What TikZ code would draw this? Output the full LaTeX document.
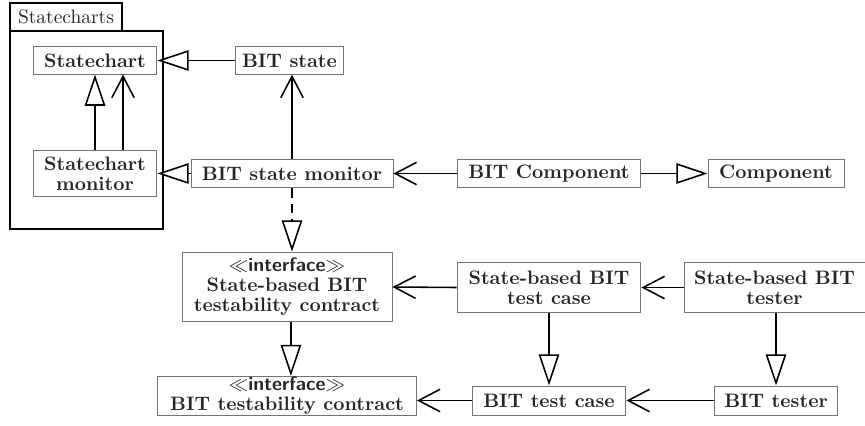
\documentclass[tikz,border=0pt]{standalone}
\usetikzlibrary{arrows.meta,calc}
\begin{document}
\begin{tikzpicture}[x=0.5133pt,y=-0.5133pt,
  box/.style={draw=black!55,line width=0.5pt,inner sep=0pt,align=center,text=black!85,
    font={\bfseries\fontsize{10}{10.3}\selectfont},minimum height=14pt},
  gen/.style={line width=0.8pt,-{Triangle[open,length=16pt,width=10.5pt,fill=white]}},
  assoc/.style={line width=0.8pt,-{Straight Barb[length=11pt,width=11.5pt]}},
  real/.style={gen,dash pattern=on 5pt off 3pt}]
\useasboundingbox (0,0) rectangle (865,425);
% package
\draw[black,line width=0.7pt] (10,3) rectangle (122,31);
\node[inner sep=0pt,text=black!85] (pkgtab) at (66,17) {Statecharts};
\draw[black,line width=1pt] (10,31) rectangle (163,229);
% nodes
\node[box,minimum width=63.6pt] (sc) at (95,60.5) {Statechart};
\node[box,minimum width=55.4pt] (bs) at (289.5,60.5) {BIT state};
\node[box,minimum width=63.6pt,minimum height=24.1pt] (scm) at (95,173.5) {Statechart\\monitor};
\node[box,minimum width=103.7pt,minimum height=14.4pt] (bsm) at (292,173.5) {BIT state monitor};
\node[box,minimum width=94.4pt,minimum height=14.4pt] (bc) at (549,173.5) {BIT Component};
\node[box,minimum width=69.8pt,minimum height=14.4pt] (comp) at (776,173.5) {Component};
\node[box,minimum width=107.8pt,minimum height=35.9pt] (sbtc) at (287,287) {$\ll$\textsf{interface}$\gg$\\State-based BIT\\testability contract};
\node[box,minimum width=132.9pt,minimum height=20pt] (btc) at (287,396) {$\ll$\textsf{interface}$\gg$\\BIT testability contract};
\node[box,minimum width=94.4pt,minimum height=25.2pt] (sbcase) at (549,287.5) {State-based BIT\\test case};
\node[box,minimum width=92.9pt,minimum height=25.2pt] (sbtester) at (774.5,287.5) {State-based BIT\\tester};
\node[box,minimum width=79pt,minimum height=14.9pt] (bcase) at (549,400.5) {BIT test case};
\node[box,minimum width=63.6pt,minimum height=14.9pt] (btester) at (776,400.5) {BIT tester};
% connectors
\draw[gen] (bs.west) -- (sc.east);
\draw[gen] (scm.north) -- (sc.south);
\draw[assoc] ([xshift=14.4pt]scm.north) -- ([xshift=14.4pt]sc.south);
\draw[assoc] (bsm.north) -- (bsm.north |- bs.south);
\draw[gen] (bsm.west) -- (scm.east);
\draw[assoc] (bc.west) -- (bsm.east);
\draw[gen] (bc.east) -- (comp.west);
\draw[real] (bsm.south) -- (bsm.south |- sbtc.north);
\draw[gen] ([xshift=2pt]sbtc.south) -- ([xshift=2pt]sbtc.south |- btc.north);
\draw[assoc] (sbcase.west) -- (sbtc.east);
\draw[assoc] (sbtester.west) -- (sbcase.east);
\draw[gen] (sbcase.south) -- (bcase.north);
\draw[gen] (btester.north |- sbtester.south) -- (btester.north);
\draw[assoc] (bcase.west) -- (bcase.west -| btc.east);
\draw[assoc] (btester.west) -- (bcase.east);
\end{tikzpicture}
\end{document}
